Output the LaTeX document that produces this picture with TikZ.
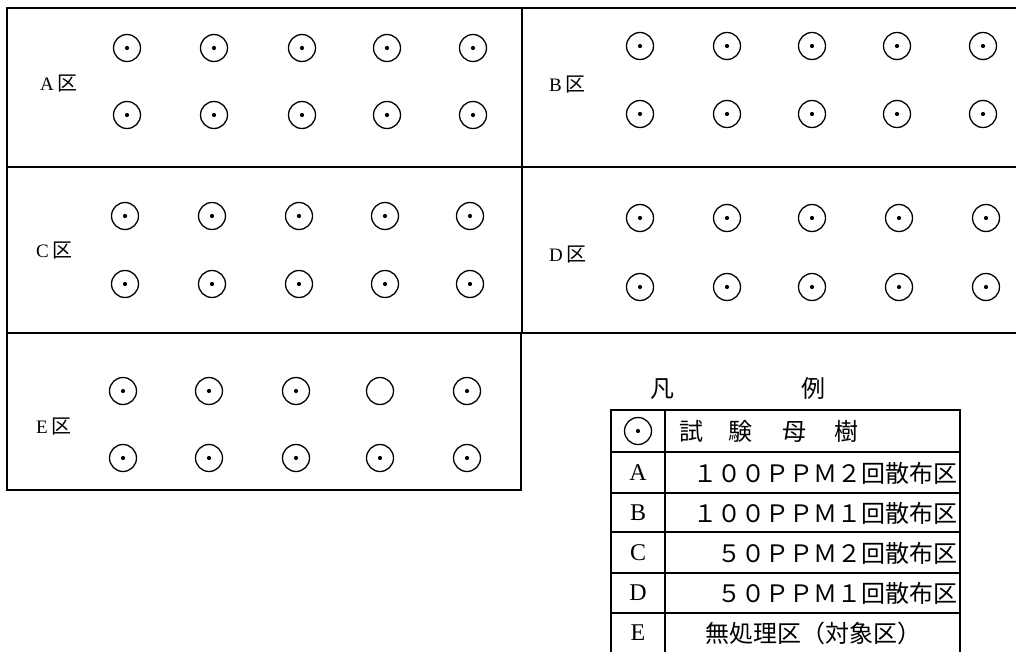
\documentclass[tikz,border=0pt]{standalone}
\usepackage{fontspec}
\setmainfont{Liberation Serif}
\newfontfamily\cjk{Noto Sans CJK JP}
\tikzset{
  frame/.style={line width=1.8pt, line cap=rect},
  thin frame/.style={line width=1.4pt},
  tree/.style={circle, draw, line width=1.3pt, minimum size=27pt, inner sep=0pt,
    path picture={\fill (path picture bounding box.center) circle (2.1pt);}},
  treeblank/.style={circle, draw, line width=1.3pt, minimum size=27pt, inner sep=0pt},
  zone/.style={inner sep=0pt, anchor=west},
  lg/.style={inner sep=0pt, font=\cjk\fontsize{24}{26}\selectfont},
  lgl/.style={inner sep=0pt, font=\fontsize{24}{26}\selectfont},
}
\newcommand{\zonelabel}[1]{{\fontsize{19}{21}\selectfont #1}\hspace{4pt}{\cjk\fontsize{20}{22}\selectfont 区}}
\begin{document}
\begin{tikzpicture}[x=1pt,y=-1pt]
\useasboundingbox (0,0) rectangle (1016,652);
% plot frames
\draw[frame] (1016,8) -- (7,8) -- (7,490) -- (521,490) -- (521,333);
\draw[frame] (522,8) -- (522,333);
\draw[frame] (7,167) -- (1016,167);
\draw[frame] (7,333) -- (1016,333);
% zone labels
\node[zone] (labA) at (40,84) {\zonelabel{A}};
\node[zone] (labB) at (549,85) {\zonelabel{B}};
\node[zone] (labC) at (36,251) {\zonelabel{C}};
\node[zone] (labD) at (549,255) {\zonelabel{D}};
\node[zone] (labE) at (36,427) {\zonelabel{E}};
% trees
\foreach \x [count=\i] in {127,214,302,387,473} {
  \node[tree] (A1\i) at (\x,48) {};
  \node[tree] (A2\i) at (\x,115) {};
}
\foreach \x [count=\i] in {640,727,812,897,983} {
  \node[tree] (B1\i) at (\x,46) {};
  \node[tree] (B2\i) at (\x,114) {};
}
\foreach \x [count=\i] in {125,212,299,385,470} {
  \node[tree] (C1\i) at (\x,216) {};
  \node[tree] (C2\i) at (\x,284) {};
}
\foreach \x [count=\i] in {640,727,812,899,986} {
  \node[tree] (D1\i) at (\x,218) {};
  \node[tree] (D2\i) at (\x,287) {};
}
\foreach \x [count=\i] in {123,209,296,380,467} {
  \node[tree] (E2\i) at (\x,458) {};
}
\node[tree] (E11) at (123,391) {};
\node[tree] (E12) at (209,391) {};
\node[tree] (E13) at (296,391) {};
\node[treeblank] (E14) at (380,391) {};
\node[tree] (E15) at (467,391) {};
% legend
\node[lg] (hanrei1) at (662,389) {凡};
\node[lg] (hanrei2) at (813,388) {例};
\draw[frame] (611,660) -- (611,410) -- (960,410) -- (960,660);
\draw[thin frame] (665,410) -- (665,660);
\foreach \y in {452,493,532,573,613} \draw[thin frame] (611,\y) -- (960,\y);
\node[tree] (lgtree) at (638,431) {};
\node[lg, anchor=west] (t0) at (679,431) {試\hspace{25pt}験\hspace{30pt}母\hspace{28pt}樹};
\node[lgl] (kA) at (638,473) {A};
\node[lgl] (kB) at (638,513) {B};
\node[lgl] (kC) at (638,553) {C};
\node[lgl] (kD) at (638,593) {D};
\node[lgl] (kE) at (638,633) {E};
\node[lg, anchor=east] (tA) at (958,473) {１００ＰＰＭ２回散布区};
\node[lg, anchor=east] (tB) at (958,513) {１００ＰＰＭ１回散布区};
\node[lg, anchor=east] (tC) at (958,553) {５０ＰＰＭ２回散布区};
\node[lg, anchor=east] (tD) at (958,593) {５０ＰＰＭ１回散布区};
\node[lg] (tE) at (813,633) {無処理区（対象区）};
\end{tikzpicture}
\end{document}
